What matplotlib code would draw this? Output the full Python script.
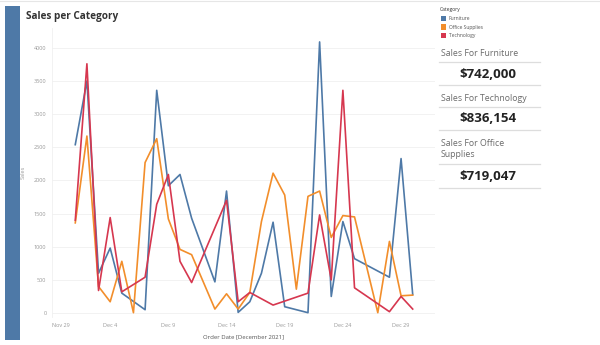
import matplotlib
matplotlib.use('Agg')
import matplotlib.pyplot as plt
from matplotlib.lines import Line2D
from matplotlib.patches import Rectangle
import datetime as dt

plt.rcParams['font.family'] = ['Open Sans', 'DejaVu Sans']

# order dates (day of December 2021) and sales per category
furniture_days = [1, 2, 3, 4, 5, 7, 8, 9, 10, 11, 13, 14, 15, 16, 17, 18, 19, 21, 22, 23, 24, 25, 28, 29, 30]
furniture_sales = [2540, 3500, 600, 980, 300, 50, 3360, 1920, 2090, 1430, 470, 1840, 10, 170, 600, 1370,
                   95, 5, 4090, 250, 1380, 820, 540, 2330, 280]

office_days = [1, 2, 3, 4, 5, 6, 7, 8, 9, 10, 11, 13, 14, 15, 16, 17, 18, 19, 20, 21, 22, 23, 24, 25, 27, 28, 29, 30]
office_sales = [1360, 2670, 400, 170, 780, 5, 2270, 2630, 1420, 960, 880, 60, 290, 60, 310, 1380, 2110,
                1780, 360, 1760, 1840, 1140, 1470, 1450, 5, 1080, 260, 270]

tech_days = [1, 2, 3, 4, 5, 7, 8, 9, 10, 11, 14, 15, 16, 18, 21, 22, 23, 24, 25, 28, 29, 30]
tech_sales = [1400, 3760, 340, 1440, 320, 540, 1640, 2090, 780, 460, 1700, 170, 310, 120, 300, 1480,
              500, 3360, 380, 20, 250, 60]

categories = ['Furniture', 'Office Supplies', 'Technology']
colors = ['#4e79a7', '#f28e2b', '#d6374f']
kpi_titles = ['Sales For Furniture', 'Sales For Technology', 'Sales For Office\nSupplies']
kpi_values = ['$742,000', '$836,154', '$719,047']


def to_dates(days):
    return [dt.date(2021, 12, d) for d in days]


fig = plt.figure(figsize=(6, 3.45), dpi=100)
fig.patch.set_facecolor('white')

# left accent bar
fig.add_artist(Rectangle((5 / 600, 1 - 340 / 345), 15 / 600, 334 / 345,
                         transform=fig.transFigure, color='#4e79a7', lw=0))
fig.add_artist(Line2D([0, 1], [1 - 1 / 345, 1 - 1 / 345], transform=fig.transFigure,
                      color='#e6e6e6', lw=0.8))

fig.text(26 / 600, 1 - 17 / 345, 'Sales per Category', fontsize=7.2, fontweight='bold',
         color='#333333', va='center', ha='left')

ax = fig.add_axes([52 / 600, 1 - 317 / 345, 383 / 600, 289 / 345])
series = [(furniture_days, furniture_sales), (office_days, office_sales), (tech_days, tech_sales)]
for (days, sales), c in zip(series, colors):
    ax.plot(to_dates(days), sales, color=c, lw=1.2)

ax.set_xlim(dt.date(2021, 11, 29), dt.datetime(2021, 12, 31, 22))
ax.set_ylim(-60, 4300)
ax.set_yticks(range(0, 4001, 500))
ax.set_yticklabels([str(v) for v in range(0, 4001, 500)])
ticks = [dt.date(2021, 11, 29)] + [dt.date(2021, 12, d) for d in (4, 9, 14, 19, 24, 29)]
ax.set_xticks(ticks)
ax.set_xticklabels(['Nov 29', 'Dec 4', 'Dec 9', 'Dec 14', 'Dec 19', 'Dec 24', 'Dec 29'])
ax.get_xticklabels()[0].set_horizontalalignment('left')
ax.tick_params(axis='both', length=0, labelsize=4, labelcolor='#999999', pad=4)
ax.grid(axis='y', color='#f0f0f0', lw=0.6)
ax.set_axisbelow(True)
for s in ['top', 'right', 'bottom']:
    ax.spines[s].set_visible(False)
ax.spines['left'].set_color('#f0f0f0')
ax.spines['left'].set_linewidth(0.6)
ax.set_ylabel('Sales', fontsize=4, color='#999999', labelpad=6)
ax.set_xlabel('Order Date [December 2021]', fontsize=4.3, color='#555555', labelpad=5)

# legend
fig.text(440 / 600, 1 - 10 / 345, 'Category', fontsize=3.6, color='#333333', va='center')
for i, (name, c) in enumerate(zip(categories, colors)):
    yc = 18.3 + i * 8.7
    fig.add_artist(Rectangle((441 / 600, 1 - (yc + 2.6) / 345), 5.2 / 600, 5.2 / 345,
                             transform=fig.transFigure, color=c, lw=0))
    fig.text(448.5 / 600, 1 - yc / 345, name, fontsize=3.6, color='#555555', va='center')

# KPI cards
title_y = [53, 98, 149]
line1_y = [62, 107, 164]
value_y = [74, 119, 176]
line2_y = [85, 130, 188]
for t, v, ty, l1, vy, l2 in zip(kpi_titles, kpi_values, title_y, line1_y, value_y, line2_y):
    fig.text(441 / 600, 1 - ty / 345, t, fontsize=6.3, color='#6b6b6b', va='center',
             linespacing=1.35)
    fig.text(488 / 600, 1 - vy / 345, v, fontsize=9.5, fontweight='bold', color='#222222',
             va='center', ha='center')
    for ly in (l1, l2):
        fig.add_artist(Line2D([439 / 600, 540 / 600], [1 - ly / 345, 1 - ly / 345],
                              transform=fig.transFigure, color='#dddddd', lw=0.9))

fig.savefig('out.png', dpi=100, facecolor='white')
